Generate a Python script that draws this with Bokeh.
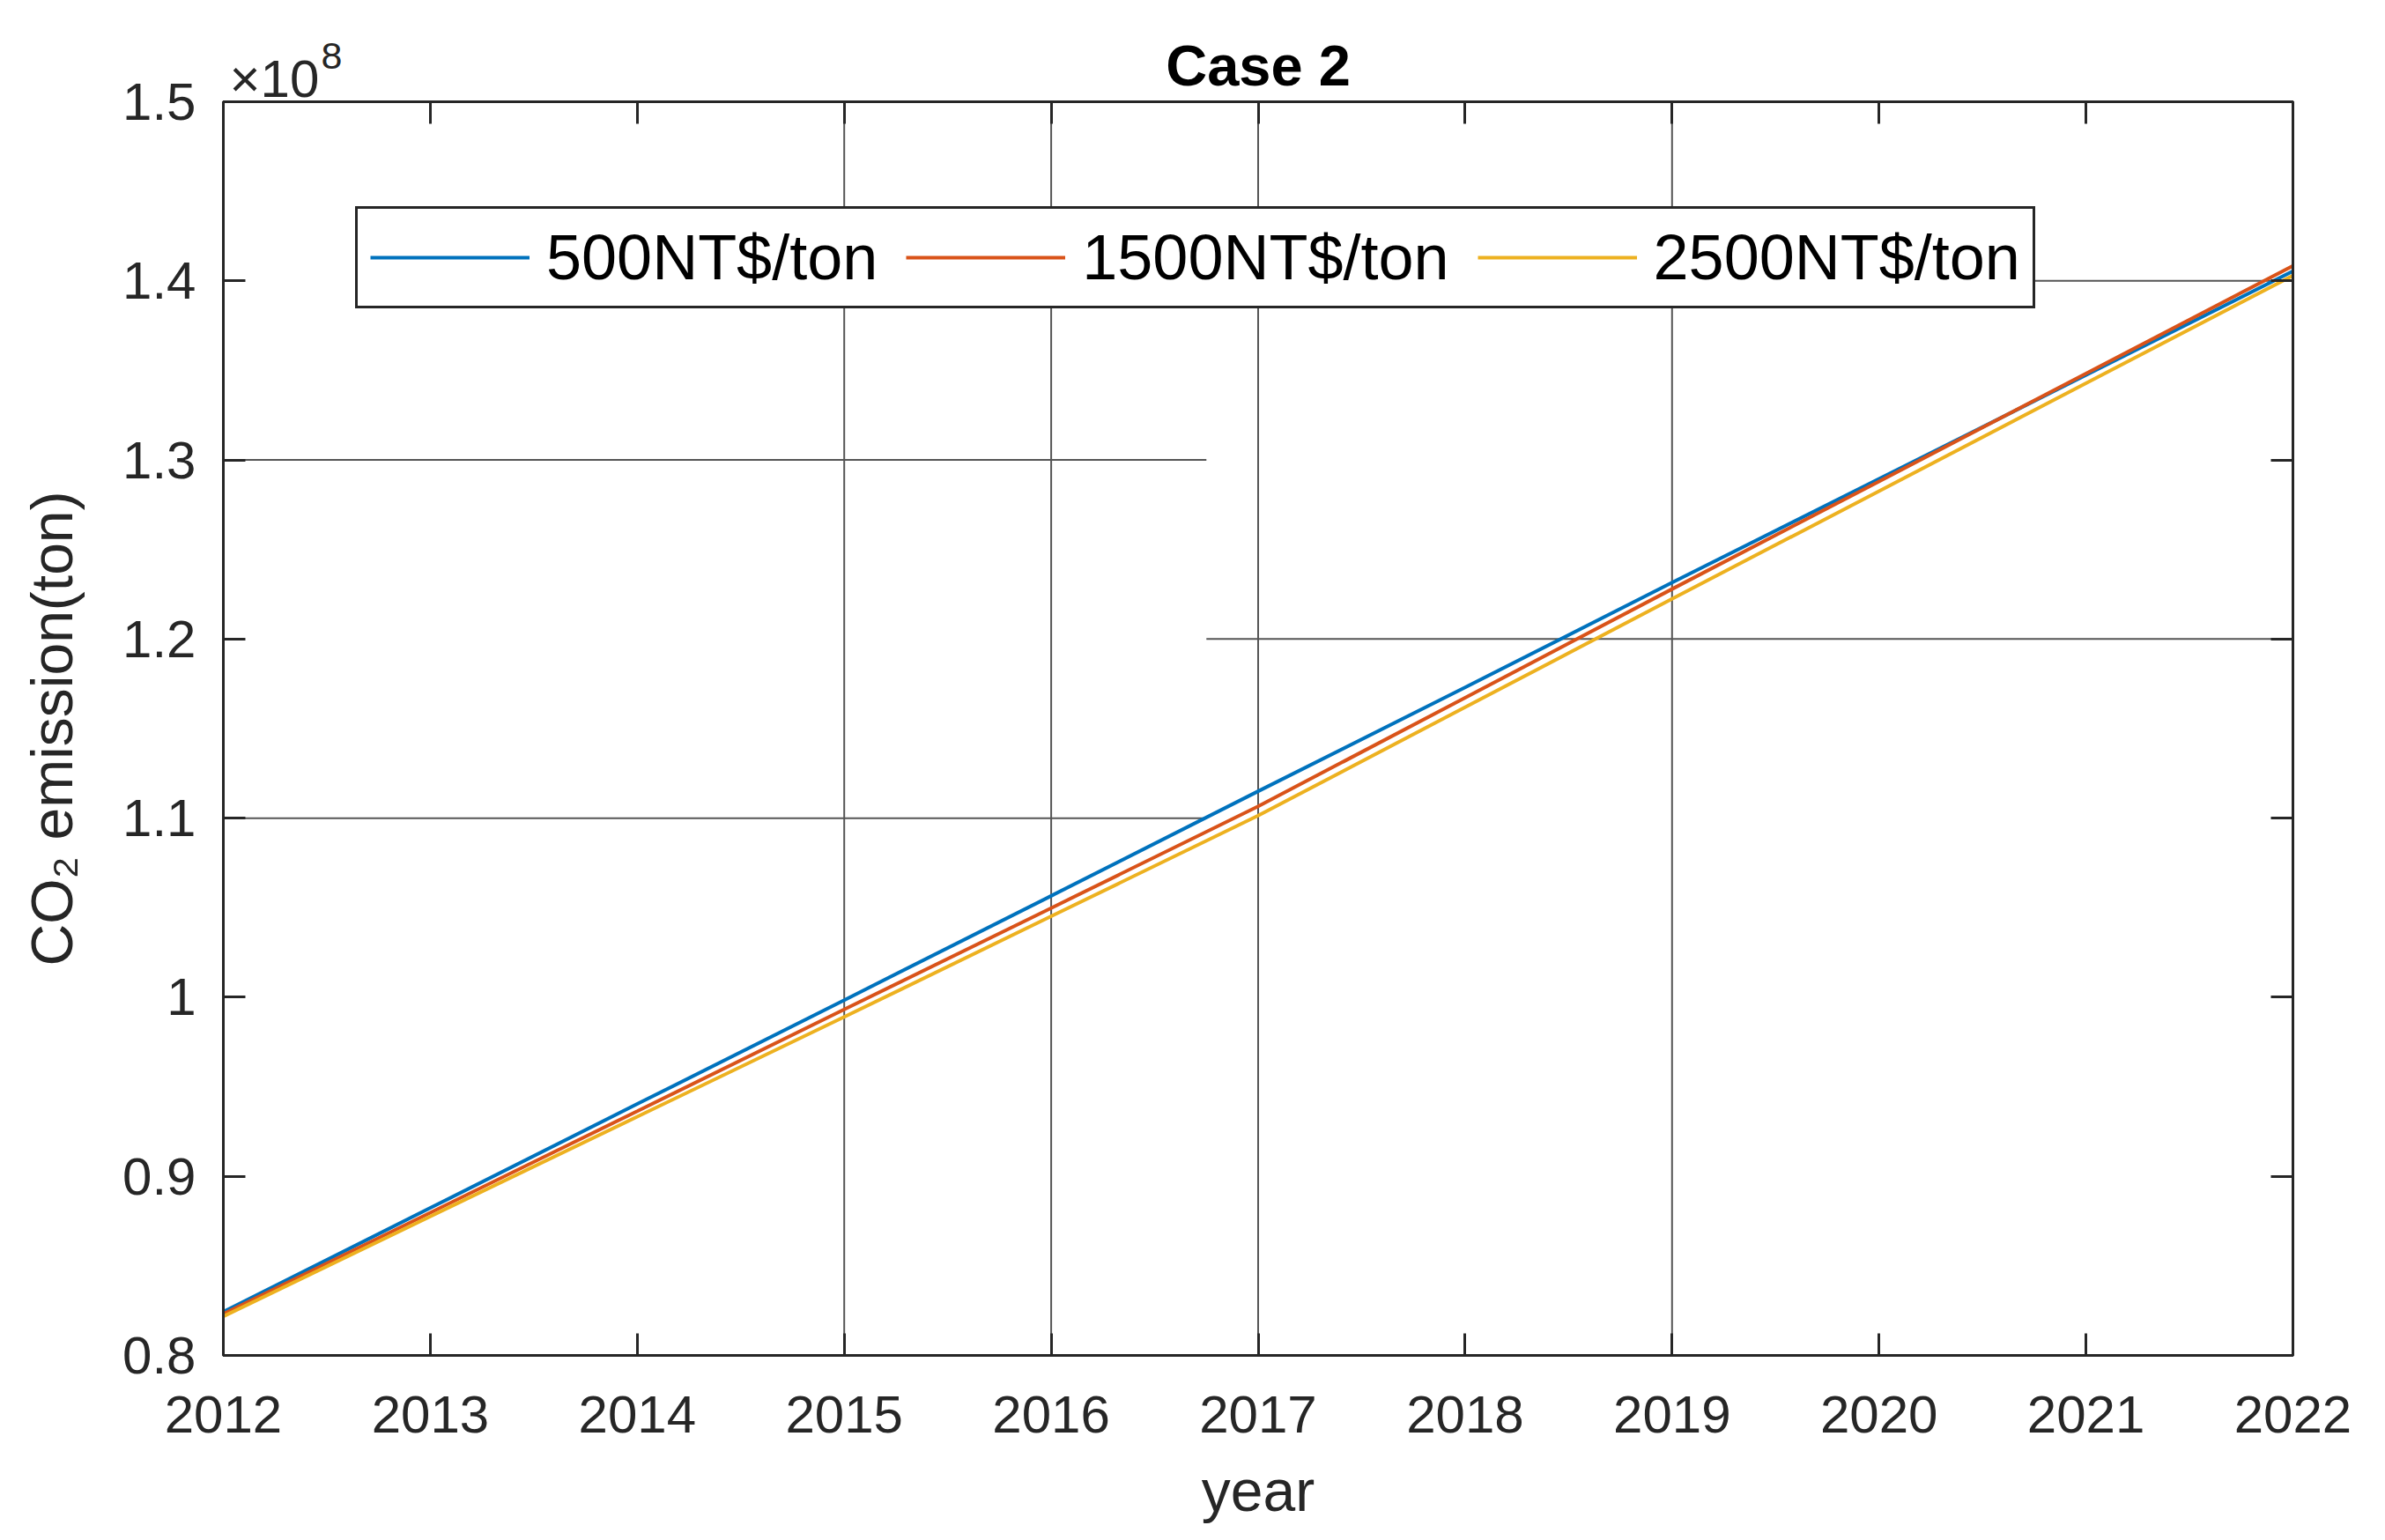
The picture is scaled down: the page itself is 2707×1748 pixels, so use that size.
from bokeh.plotting import figure
from bokeh.models import Range1d, FixedTicker, LinearAxis, Legend, LegendItem, Title
from bokeh.embed import file_html
from bokeh.resources import INLINE

# ---------------- data (CO2 emission, unit 1e8 ton) ----------------
years = [2012, 2013, 2014, 2015, 2016, 2017, 2018, 2019, 2020, 2021, 2022]
series_names = ["500NT$/ton", "1500NT$/ton", "2500NT$/ton"]
co2_500 = [0.8243, 0.8824, 0.9404, 0.9984, 1.0566, 1.1150, 1.1730, 1.2315, 1.2894, 1.3474, 1.4054]
co2_1500 = [0.8231, 0.8797, 0.9364, 0.9932, 1.0498, 1.1066, 1.1672, 1.2279, 1.2880, 1.3482, 1.4084]
co2_2500 = [0.8218, 0.8776, 0.9333, 0.9890, 1.0452, 1.1014, 1.1619, 1.2224, 1.2826, 1.3428, 1.4030]
series_colors = ["#0072BD", "#D95319", "#EDB120"]

x_ticks = [2012, 2013, 2014, 2015, 2016, 2017, 2018, 2019, 2020, 2021, 2022]
y_ticks = [0.8, 0.9, 1.0, 1.1, 1.2, 1.3, 1.4, 1.5]
y_tick_labels = ["0.8", "0.9", "1", "1.1", "1.2", "1.3", "1.4", "1.5"]

# partial grid lines as they appear in the source figure
grid_v_years = [2015, 2016, 2017, 2019]
grid_h_left_vals = [1.1, 1.3]
grid_h_right_vals = [1.2, 1.4]
grid_split_year = 2016.75

title_text = "Case 2"
x_label = "year"
y_label = "CO\u2082 emission(ton)"
exp_base = "\u00d710"
exp_power = "8"

FONT = "Liberation Sans"
AX = "#262626"

X0, X1, Y0, Y1 = 2012, 2022, 0.8, 1.5

p = figure(width=2690, height=1732, output_backend="svg", toolbar_location=None, title=None,
           x_range=Range1d(X0, X1), y_range=Range1d(Y0, Y1),
           min_border_left=253, min_border_right=88, min_border_top=115, min_border_bottom=194)
p.background_fill_color = "white"
p.border_fill_color = "white"
p.outline_line_color = AX
p.outline_line_width = 3
p.xgrid.grid_line_color = None
p.ygrid.grid_line_color = None

def style_axis(ax, labels=True):
    ax.axis_line_color = AX
    ax.axis_line_width = 3
    ax.major_tick_line_color = AX
    ax.major_tick_line_width = 3
    ax.major_tick_in = 25
    ax.major_tick_out = 0
    ax.minor_tick_line_color = None
    ax.major_label_text_font = FONT
    ax.major_label_text_color = AX
    ax.major_label_text_font_size = "60px" if labels else "0px"
    ax.axis_label_text_font = FONT
    ax.axis_label_text_color = AX
    ax.axis_label_text_font_size = "66px"
    ax.axis_label_text_font_style = "normal"

xa = p.xaxis[0]
ya = p.yaxis[0]
xa.ticker = FixedTicker(ticks=x_ticks)
ya.ticker = FixedTicker(ticks=y_ticks)
ya.major_label_overrides = {t: s for t, s in zip(y_ticks, y_tick_labels)}
style_axis(xa)
style_axis(ya)
xa.axis_label = x_label
ya.axis_label = y_label
xa.major_label_standoff = 46
xa.axis_label_standoff = 26
ya.major_label_standoff = 31
ya.axis_label_standoff = 40

top_ax = LinearAxis(ticker=FixedTicker(ticks=x_ticks))
right_ax = LinearAxis(ticker=FixedTicker(ticks=y_ticks))
style_axis(top_ax, labels=False)
style_axis(right_ax, labels=False)
top_ax.major_label_standoff = 0
right_ax.major_label_standoff = 0
p.add_layout(top_ax, "above")
p.add_layout(right_ax, "right")

# ---- texts above the axes: exponent "x10^8" at the left, bold title centred ----
# stacked upward from the axes box; standoffs tuned so that they overlap like the original
spacer = Title(text=" ", text_font=FONT, text_font_size="10px", standoff=5.3)
t_exp = Title(text=exp_base, align="left", offset=7, vertical_align="bottom",
              text_font=FONT, text_font_size="60px", text_font_style="normal",
              text_color=AX, standoff=-51.4)
t_main = Title(text=title_text, align="center", vertical_align="bottom",
               text_font=FONT, text_font_size="65px", text_font_style="bold",
               text_color="#000000", standoff=-62.8)
t_pow = Title(text=exp_power, align="left", offset=111, vertical_align="bottom",
              text_font=FONT, text_font_size="43px", text_font_style="normal",
              text_color=AX, standoff=-20)
for t in [spacer, t_exp, t_main, t_pow]:
    p.add_layout(t, "above")

# grid segments
GRID = "#555555"
p.segment(x0=grid_v_years, x1=grid_v_years, y0=[Y0] * len(grid_v_years), y1=[Y1] * len(grid_v_years),
          line_color=GRID, line_width=2)
p.segment(x0=[X0] * len(grid_h_left_vals), x1=[grid_split_year] * len(grid_h_left_vals),
          y0=grid_h_left_vals, y1=grid_h_left_vals, line_color=GRID, line_width=2)
p.segment(x0=[grid_split_year] * len(grid_h_right_vals), x1=[X1] * len(grid_h_right_vals),
          y0=grid_h_right_vals, y1=grid_h_right_vals, line_color=GRID, line_width=2)

# series
renderers = []
for vals, col in zip([co2_500, co2_1500, co2_2500], series_colors):
    r = p.line(years, vals, line_color=col, line_width=4)
    renderers.append(r)

legend = Legend(items=[LegendItem(label=n, renderers=[r]) for n, r in zip(series_names, renderers)],
                orientation="horizontal", location=(150, 1188))
legend.label_text_font = FONT
legend.label_text_font_size = "72px"
legend.label_text_color = "#000000"
legend.glyph_width = 181
legend.glyph_height = 20
legend.label_standoff = 19
legend.spacing = 32
legend.padding = 14
legend.margin = 0
legend.border_line_color = AX
legend.border_line_width = 3
legend.border_line_alpha = 1.0
legend.background_fill_color = "white"
legend.background_fill_alpha = 1.0
p.add_layout(legend, "center")

open("out.html", "w").write(file_html(p, INLINE))
